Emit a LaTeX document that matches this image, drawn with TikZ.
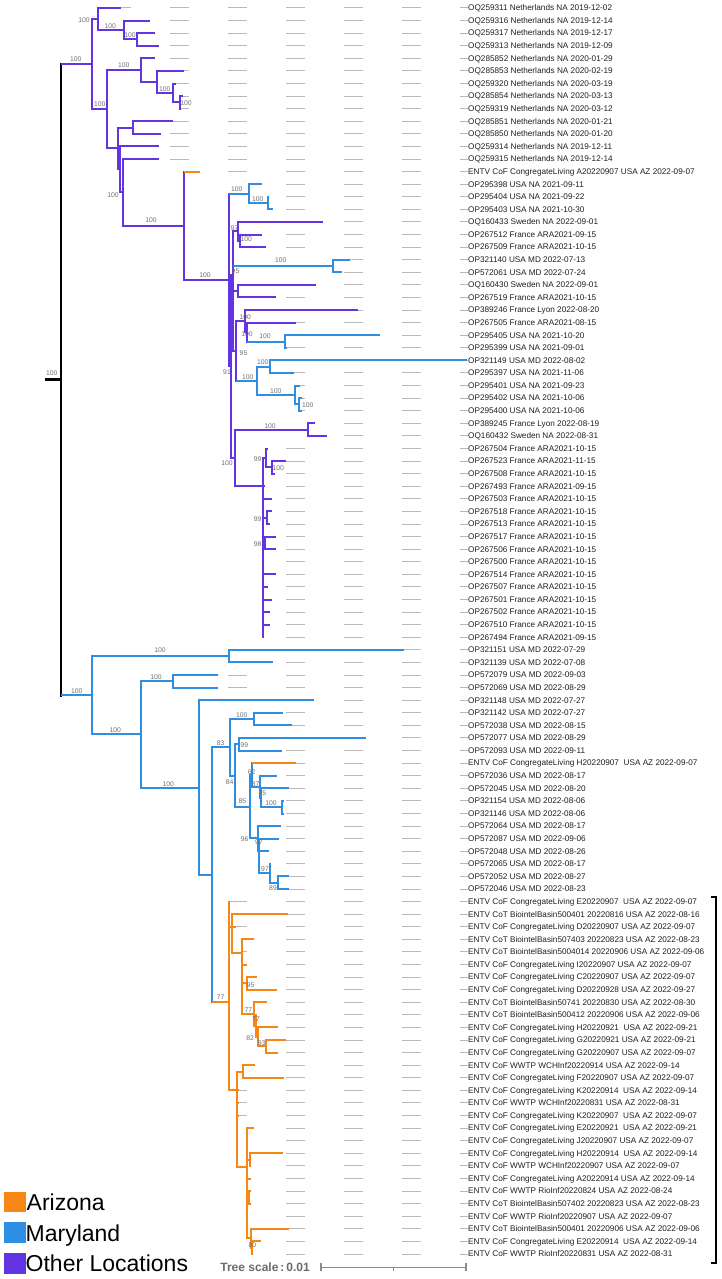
\documentclass[tikz,border=0pt]{standalone}
\usepackage{fontspec}
\setmainfont{Liberation Sans}
\definecolor{pur}{RGB}{98,52,226}
\definecolor{blu}{RGB}{45,142,226}
\definecolor{org}{RGB}{247,135,20}
\definecolor{gd}{RGB}{185,185,185}
\definecolor{bsg}{RGB}{110,110,110}
\newcommand\yy[1]{8+(#1-1)*12.586}
\tikzset{
 vbr/.style={line width=2pt, line cap=rect},
 hbr/.style={line width=2pt},
 guide/.style={draw=gd, line width=1pt, dash pattern=on 19pt off 39pt},
 leaflab/.style={anchor=base west, inner sep=0pt, font=\fontsize{8.2}{9}\selectfont, text=black!88},
 bslab/.style={inner sep=0pt, font=\fontsize{6.8}{7}\selectfont, text=bsg},
 legtxt/.style={anchor=base west, inner sep=0pt, font=\fontsize{23}{25}\selectfont},
}
\newcommand\leafx[3]{%
  \coordinate (l#1) at (#2,{\yy{#1}});
  \begin{scope}
    \clip (#2,{\yy{#1}-3}) rectangle (468,{\yy{#1}+3});
    \draw[guide] (54,{\yy{#1}}) -- (468,{\yy{#1}});
  \end{scope}
  \node[leaflab] (t#1) at (468,{\yy{#1}+2.8}) {#3};}
\newcommand\inode[3]{\coordinate (#1) at (#2,{\yy{#3}});}
\newcommand\vbar[4][pur]{\draw[vbr,#1] (#2 |- #3) -- (#2 |- #4);}
\newcommand\kids[3][pur]{\foreach \kk in {#3}{\draw[hbr,#1] (#2 |- \kk) -- (\kk);}}
\newcounter{bsc}
\newcommand\boot[3]{\stepcounter{bsc}\node[bslab] (bs\arabic{bsc}) at (#1,#2) {#3};}
\begin{document}
\begin{tikzpicture}[x=1pt,y=-1pt]
\useasboundingbox (0,0) rectangle (721,1279);
% ---------------- leaves
\leafx{1}{120.7}{OQ259311 Netherlands NA 2019-12-02}
\leafx{2}{150}{OQ259316 Netherlands NA 2019-12-14}
\leafx{3}{155}{OQ259317 Netherlands NA 2019-12-17}
\leafx{4}{159}{OQ259313 Netherlands NA 2019-12-09}
\leafx{5}{155}{OQ285852 Netherlands NA 2020-01-29}
\leafx{6}{184}{OQ285853 Netherlands NA 2020-02-19}
\leafx{7}{176}{OQ259320 Netherlands NA 2020-03-19}
\leafx{8}{183}{OQ285854 Netherlands NA 2020-03-13}
\leafx{9}{180.5}{OQ259319 Netherlands NA 2020-03-12}
\leafx{10}{173}{OQ285851 Netherlands NA 2020-01-21}
\leafx{11}{160.7}{OQ285850 Netherlands NA 2020-01-20}
\leafx{12}{159}{OQ259314 Netherlands NA 2019-12-11}
\leafx{13}{159}{OQ259315 Netherlands NA 2019-12-14}
\leafx{14}{200}{ENTV CoF CongregateLiving A20220907 USA AZ 2022-09-07}
\leafx{15}{262}{OP295398 USA NA 2021-09-11}
\leafx{16}{269}{OP295404 USA NA 2021-09-22}
\leafx{17}{273}{OP295403 USA NA 2021-10-30}
\leafx{18}{323.3}{OQ160433 Sweden NA 2022-09-01}
\leafx{19}{262}{OP267512 France ARA2021-09-15}
\leafx{20}{265.7}{OP267509 France ARA2021-10-15}
\leafx{21}{349.7}{OP321140 USA MD 2022-07-13}
\leafx{22}{341.7}{OP572061 USA MD 2022-07-24}
\leafx{23}{315.7}{OQ160430 Sweden NA 2022-09-01}
\leafx{24}{276.3}{OP267519 France ARA2021-10-15}
\leafx{25}{358}{OP389246 France Lyon 2022-08-20}
\leafx{26}{295.7}{OP267505 France ARA2021-08-15}
\leafx{27}{380}{OP295405 USA NA 2021-10-20}
\leafx{28}{287}{OP295399 USA NA 2021-09-01}
\leafx{29}{467}{OP321149 USA MD 2022-08-02}
\leafx{30}{294}{OP295397 USA NA 2021-11-06}
\leafx{31}{300}{OP295401 USA NA 2021-09-23}
\leafx{32}{302}{OP295402 USA NA 2021-10-06}
\leafx{33}{302}{OP295400 USA NA 2021-10-06}
\leafx{34}{315}{OP389245 France Lyon 2022-08-19}
\leafx{35}{327.3}{OQ160432 Sweden NA 2022-08-31}
\leafx{36}{268}{OP267504 France ARA2021-10-15}
\leafx{37}{285.7}{OP267523 France ARA2021-11-15}
\leafx{38}{275.3}{OP267508 France ARA2021-10-15}
\leafx{39}{264.5}{OP267493 France ARA2021-09-15}
\leafx{40}{272}{OP267503 France ARA2021-10-15}
\leafx{41}{272}{OP267518 France ARA2021-10-15}
\leafx{42}{270}{OP267513 France ARA2021-10-15}
\leafx{43}{276}{OP267517 France ARA2021-10-15}
\leafx{44}{276}{OP267506 France ARA2021-10-15}
\leafx{45}{264.3}{OP267500 France ARA2021-10-15}
\leafx{46}{276}{OP267514 France ARA2021-10-15}
\leafx{47}{268}{OP267507 France ARA2021-10-15}
\leafx{48}{272.3}{OP267501 France ARA2021-10-15}
\leafx{49}{270}{OP267502 France ARA2021-10-15}
\leafx{50}{270}{OP267510 France ARA2021-10-15}
\leafx{51}{264.3}{OP267494 France ARA2021-09-15}
\leafx{52}{404}{OP321151 USA MD 2022-07-29}
\leafx{53}{272.7}{OP321139 USA MD 2022-07-08}
\leafx{54}{217.7}{OP572079 USA MD 2022-09-03}
\leafx{55}{217.7}{OP572069 USA MD 2022-08-29}
\leafx{56}{313.7}{OP321148 USA MD 2022-07-27}
\leafx{57}{283.3}{OP321142 USA MD 2022-07-27}
\leafx{58}{291.7}{OP572038 USA MD 2022-08-15}
\leafx{59}{365.7}{OP572077 USA MD 2022-08-29}
\leafx{60}{281.7}{OP572093 USA MD 2022-09-11}
\leafx{61}{296}{ENTV CoF CongregateLiving H20220907\ \ USA AZ 2022-09-07}
\leafx{62}{276.7}{OP572036 USA MD 2022-08-17}
\leafx{63}{289}{OP572045 USA MD 2022-08-20}
\leafx{64}{283.5}{OP321154 USA MD 2022-08-06}
\leafx{65}{283.5}{OP321146 USA MD 2022-08-06}
\leafx{66}{281}{OP572064 USA MD 2022-08-17}
\leafx{67}{278.7}{OP572087 USA MD 2022-09-06}
\leafx{68}{268.7}{OP572048 USA MD 2022-08-26}
\leafx{69}{271}{OP572065 USA MD 2022-08-17}
\leafx{70}{289}{OP572052 USA MD 2022-08-27}
\leafx{71}{289}{OP572046 USA MD 2022-08-23}
\leafx{72}{229.5}{ENTV CoF CongregateLiving E20220907\ \ USA AZ 2022-09-07}
\leafx{73}{288}{ENTV CoT BiointelBasin500401 20220816 USA AZ 2022-08-16}
\leafx{74}{236}{ENTV CoF CongregateLiving D20220907 USA AZ 2022-09-07}
\leafx{75}{254}{ENTV CoT BiointelBasin507403 20220823 USA AZ 2022-08-23}
\leafx{76}{243}{ENTV CoT BiointelBasin5004014 20220906 USA AZ 2022-09-06}
\leafx{77}{246.7}{ENTV CoF CongregateLiving I20220907 USA AZ 2022-09-07}
\leafx{78}{256.7}{ENTV CoF CongregateLiving C20220907 USA AZ 2022-09-07}
\leafx{79}{276.7}{ENTV CoF CongregateLiving D20220928 USA AZ 2022-09-27}
\leafx{80}{266.7}{ENTV CoT BiointelBasin50741 20220830 USA AZ 2022-08-30}
\leafx{81}{257}{ENTV CoT BiointelBasin500412 20220906 USA AZ 2022-09-06}
\leafx{82}{278.3}{ENTV CoF CongregateLiving H20220921\ \ USA AZ 2022-09-21}
\leafx{83}{285.7}{ENTV CoF CongregateLiving G20220921 USA AZ 2022-09-21}
\leafx{84}{277.7}{ENTV CoF CongregateLiving G20220907 USA AZ 2022-09-07}
\leafx{85}{255}{ENTV CoF WWTP WCHInf20220914 USA AZ 2022-09-14}
\leafx{86}{284}{ENTV CoF CongregateLiving F20220907 USA AZ 2022-09-07}
\leafx{87}{238.5}{ENTV CoF CongregateLiving K20220914\ \ USA AZ 2022-09-14}
\leafx{88}{238.5}{ENTV CoF WWTP WCHInf20220831 USA AZ 2022-08-31}
\leafx{89}{238.5}{ENTV CoF CongregateLiving K20220907\ \ USA AZ 2022-09-07}
\leafx{90}{254.3}{ENTV CoF CongregateLiving E20220921\ \ USA AZ 2022-09-21}
\leafx{91}{248}{ENTV CoF CongregateLiving J20220907 USA AZ 2022-09-07}
\leafx{92}{282.7}{ENTV CoF CongregateLiving H20220914\ \ USA AZ 2022-09-14}
\leafx{93}{251}{ENTV CoF WWTP WCHInf20220907 USA AZ 2022-09-07}
\leafx{94}{250.7}{ENTV CoF CongregateLiving A20220914 USA AZ 2022-09-14}
\leafx{95}{250.7}{ENTV CoF WWTP RioInf20220824 USA AZ 2022-08-24}
\leafx{96}{250.7}{ENTV CoT BiointelBasin507402 20220823 USA AZ 2022-08-23}
\leafx{97}{248}{ENTV CoF WWTP RioInf20220907 USA AZ 2022-09-07}
\leafx{98}{288.7}{ENTV CoT BiointelBasin500401 20220906 USA AZ 2022-09-06}
\leafx{99}{261}{ENTV CoF CongregateLiving E20220914\ \ USA AZ 2022-09-14}
\leafx{100}{252.5}{ENTV CoF WWTP RioInf20220831 USA AZ 2022-08-31}
% ---------------- internal nodes
\inode{root}{61}{30.535}
\coordinate (r0) at (45,{\yy{30.535}});
\inode{A}{92.3}{5.46}
\inode{A1}{98.3}{1.875}
\inode{A1b}{123.7}{2.75}
\inode{A1c}{137.3}{3.5}
\inode{A2}{107.3}{9.05}
\inode{A2a}{140.7}{5.9375}
\inode{A2a2}{157.3}{6.875}
\inode{A2a3}{172.7}{7.75}
\inode{A2a4}{179.7}{8.5}
\inode{A2b}{117.7}{12.16}
\inode{A2b1}{133.3}{10.5}
\inode{A2b2}{120}{13.83}
\inode{A2b3}{122.7}{15.65}
\inode{C}{184}{18.305}
\inode{D}{228.7}{22.61}
\inode{F1}{248.7}{15.75}
\inode{G}{268}{16.5}
\inode{F2}{231}{29.47}
\inode{K}{233}{22.21}
\inode{P1}{238.3}{18.75}
\inode{P1b}{240}{19.5}
\inode{Q}{332.7}{21.5}
\inode{R}{238.3}{23.5}
\inode{K2}{236}{28.25}
\inode{T1}{245.3}{25.875}
\inode{T2}{246.7}{26.75}
\inode{S}{285}{27.5}
\inode{U}{256.7}{30.625}
\inode{U1}{270}{29.5}
\inode{U2}{295}{31.75}
\inode{U3}{299.3}{32.5}
\inode{M}{234.5}{36.725}
\inode{V}{308.3}{34.5}
\inode{W}{263.3}{38.95}
\inode{W1}{266}{36.75}
\inode{X}{272}{37.5}
\inode{Y}{267.3}{41.5}
\inode{Z}{264.7}{43.5}
\inode{B}{92.3}{55.61}
\inode{B1}{228.7}{52.5}
\inode{B2}{141}{58.72}
\inode{B2a}{173.3}{54.5}
\inode{B2b}{198.7}{62.94}
\inode{B3}{212.3}{69.87}
\inode{B4}{230}{59.74}
\inode{B5}{254}{57.5}
\inode{B6}{235}{61.98}
\inode{B7}{238.7}{59.5}
\inode{B8}{250}{64.455}
\inode{B9}{252.3}{61.94}
\inode{B9b}{260}{62.875}
\inode{B9c}{260.7}{63.75}
\inode{B9d}{282.3}{64.5}
\inode{B10}{258.3}{66.97}
\inode{B10b}{259.3}{67.94}
\inode{B10c}{270}{69.75}
\inode{B10d}{278}{70.5}
\inode{AZ}{229}{80.0}
\inode{AZ1}{232.3}{74.0}
\inode{N1}{242.3}{76.09}
\inode{N78}{247.3}{78.5}
\inode{N2}{254.3}{80.94}
\inode{N3}{255.7}{81.875}
\inode{N4}{258.3}{82.75}
\inode{N5}{265.7}{83.5}
\inode{AZ2}{237}{87.0}
\inode{N6}{242.5}{85.5}
\inode{N7}{247}{93.06}
\inode{N8}{250}{92.5}
\inode{N11}{248.7}{95.5}
\inode{N9}{250.7}{98.75}
\inode{N10}{252}{99.5}
% ---------------- branches
\draw[hbr,black,line width=2.5pt] (r0) -- (root);
\draw[vbr,black,line width=2.5pt] (root |- A) -- (root |- B);
\kids{root}{A}\kids[blu]{root}{B}
% Other locations clade
\vbar{A}{A1}{A2}\kids{A}{A1,A2}
\vbar{A1}{l1}{A1b}\kids{A1}{l1,A1b}
\vbar{A1b}{l2}{A1c}\kids{A1b}{l2,A1c}
\vbar{A1c}{l3}{l4}\kids{A1c}{l3,l4}
\vbar{A2}{A2a}{A2b}\kids{A2}{A2a,A2b}
\vbar{A2a}{l5}{A2a2}\kids{A2a}{l5,A2a2}
\vbar{A2a2}{l6}{A2a3}\kids{A2a2}{l6,A2a3}
\vbar{A2a3}{l7}{A2a4}\kids{A2a3}{l7,A2a4}
\vbar{A2a4}{l8}{l9}\kids{A2a4}{l8,l9}
\vbar{A2b}{A2b1}{A2b2}\kids{A2b}{A2b1,A2b2}
\vbar{A2b1}{l10}{l11}\kids{A2b1}{l10,l11}
\vbar{A2b2}{l12}{A2b3}\kids{A2b2}{l12,A2b3}
\vbar{A2b3}{l13}{C}\kids{A2b3}{l13,C}
\vbar{C}{l14}{D}\kids[org]{C}{l14}\kids{C}{D}
\vbar{D}{F1}{F2}\kids[blu]{D}{F1}\kids{D}{F2}
\vbar[blu]{F1}{l15}{G}\kids[blu]{F1}{l15,G}
\vbar[blu]{G}{l16}{l17}\kids[blu]{G}{l16,l17}
\vbar{F2}{K}{M}\kids{F2}{K,M}
\vbar{K}{P1}{K2}\kids{K}{P1,R,K2}\kids[blu]{K}{Q}
\vbar{P1}{l18}{P1b}\kids{P1}{l18,P1b}
\vbar{P1b}{l19}{l20}\kids{P1b}{l19,l20}
\vbar[blu]{Q}{l21}{l22}\kids[blu]{Q}{l21,l22}
\vbar{R}{l23}{l24}\kids{R}{l23,l24}
\vbar{K2}{T1}{U}\kids{K2}{T1}\kids[blu]{K2}{U}
\vbar{T1}{l25}{T2}\kids{T1}{l25,T2}
\vbar{T2}{l26}{S}\kids{T2}{l26}\kids[blu]{T2}{S}
\vbar[blu]{S}{l27}{l28}\kids[blu]{S}{l27,l28}
\vbar[blu]{U}{U1}{U2}\kids[blu]{U}{U1,U2}
\vbar[blu]{U1}{l29}{l30}\kids[blu]{U1}{l29,l30}
\vbar[blu]{U2}{l31}{U3}\kids[blu]{U2}{l31,U3}
\vbar[blu]{U3}{l32}{l33}\kids[blu]{U3}{l32,l33}
\vbar{M}{V}{W}\kids{M}{V,W}
\vbar{V}{l34}{l35}\kids{V}{l34,l35}
\vbar{W}{W1}{l51}\kids{W}{W1,l39,l40,Y,Z,l45,l46,l47,l48,l49,l50,l51}
\vbar{W1}{l36}{X}\kids{W1}{l36,X}
\vbar{X}{l37}{l38}\kids{X}{l37,l38}
\vbar{Y}{l41}{l42}\kids{Y}{l41,l42}
\vbar{Z}{l43}{l44}\kids{Z}{l43,l44}
% Maryland / Arizona clade
\vbar[blu]{B}{B1}{B2}\kids[blu]{B}{B1,B2}
\vbar[blu]{B1}{l52}{l53}\kids[blu]{B1}{l52,l53}
\vbar[blu]{B2}{B2a}{B2b}\kids[blu]{B2}{B2a,B2b}
\vbar[blu]{B2a}{l54}{l55}\kids[blu]{B2a}{l54,l55}
\vbar[blu]{B2b}{l56}{B3}\kids[blu]{B2b}{l56,B3}
\vbar[blu]{B3}{B4}{AZ}\kids[blu]{B3}{B4}\kids[org]{B3}{AZ}
\vbar[blu]{B4}{B5}{B6}\kids[blu]{B4}{B5,B6}
\vbar[blu]{B5}{l57}{l58}\kids[blu]{B5}{l57,l58}
\vbar[blu]{B6}{B7}{B8}\kids[blu]{B6}{B7,B8}
\vbar[blu]{B7}{l59}{l60}\kids[blu]{B7}{l59,l60}
\vbar[blu]{B8}{B9}{B10}\kids[blu]{B8}{B9,B10}
\vbar[blu]{B9}{l61}{B9b}\kids[org]{B9}{l61}\kids[blu]{B9}{B9b}
\vbar[blu]{B9b}{l62}{B9c}\kids[blu]{B9b}{l62,B9c}
\vbar[blu]{B9c}{l63}{B9d}\kids[blu]{B9c}{l63,B9d}
\vbar[blu]{B9d}{l64}{l65}\kids[blu]{B9d}{l64,l65}
\vbar[blu]{B10}{l66}{B10b}\kids[blu]{B10}{l66,B10b}
\vbar[blu]{B10b}{l67}{B10c}\kids[blu]{B10b}{l67,l68,B10c}
\vbar[blu]{B10c}{l69}{B10d}\kids[blu]{B10c}{l69,B10d}
\vbar[blu]{B10d}{l70}{l71}\kids[blu]{B10d}{l70,l71}
\vbar[org]{AZ}{l72}{AZ2}\kids[org]{AZ}{l72,AZ1,AZ2}
\vbar[org]{AZ1}{l73}{N1}\kids[org]{AZ1}{l73,l74,N1}
\vbar[org]{N1}{l75}{N2}\kids[org]{N1}{l75,l76,l77,N78,N2}
\vbar[org]{N78}{l78}{l79}\kids[org]{N78}{l78,l79}
\vbar[org]{N2}{l80}{N3}\kids[org]{N2}{l80,N3}
\vbar[org]{N3}{l81}{N4}\kids[org]{N3}{l81,N4}
\vbar[org]{N4}{l82}{N5}\kids[org]{N4}{l82,N5}
\vbar[org]{N5}{l83}{l84}\kids[org]{N5}{l83,l84}
\vbar[org]{AZ2}{N6}{N7}\kids[org]{AZ2}{N6,l87,l88,l89,N7}
\vbar[org]{N6}{l85}{l86}\kids[org]{N6}{l85,l86}
\vbar[org]{N7}{l90}{N9}\kids[org]{N7}{l90,l91,N8,l94,N11,l97,N9}
\vbar[org]{N8}{l92}{l93}\kids[org]{N8}{l92,l93}
\vbar[org]{N11}{l95}{l96}\kids[org]{N11}{l95,l96}
\vbar[org]{N9}{l98}{N10}\kids[org]{N9}{l98,N10}
\vbar[org]{N10}{l99}{l100}\kids[org]{N10}{l99,l100}
% ---------------- bootstrap values
\boot{84}{19.7}{100}
\boot{75.7}{59.3}{100}
\boot{110.3}{25.7}{100}
\boot{130}{35}{100}
\boot{123.7}{65}{100}
\boot{164.7}{88.7}{100}
\boot{186}{103}{100}
\boot{99.7}{104.3}{100}
\boot{113}{195}{100}
\boot{151}{220.3}{100}
\boot{205}{275}{100}
\boot{236.7}{188.7}{100}
\boot{257.7}{199.3}{100}
\boot{234.5}{228}{97}
\boot{246.3}{239}{100}
\boot{280.7}{260.3}{100}
\boot{235.5}{270.7}{95}
\boot{245.3}{317.5}{100}
\boot{247}{334}{100}
\boot{265}{336.5}{100}
\boot{243.5}{352.7}{95}
\boot{262.7}{362.3}{100}
\boot{227}{371.7}{91}
\boot{247.7}{376.7}{100}
\boot{275.7}{391}{100}
\boot{307.7}{405}{100}
\boot{270}{425.7}{100}
\boot{257.7}{459}{99}
\boot{227}{462.7}{100}
\boot{278.3}{468}{100}
\boot{257.7}{518.7}{99}
\boot{257.7}{544}{98}
\boot{51.7}{372.7}{100}
\boot{160}{650.3}{100}
\boot{76.7}{690.7}{100}
\boot{156}{677}{100}
\boot{115.3}{730.3}{100}
\boot{168.3}{783.7}{100}
\boot{241.7}{715}{100}
\boot{220.7}{743}{83}
\boot{244.3}{744.7}{99}
\boot{251.7}{772}{62}
\boot{229.7}{781.7}{84}
\boot{255.7}{783.7}{87}
\boot{262.3}{792.7}{75}
\boot{242.3}{801.3}{85}
\boot{271}{803}{100}
\boot{244.7}{839.3}{96}
\boot{259}{842}{97}
\boot{265}{869.3}{97}
\boot{273}{888.3}{89}
\boot{220.7}{996.7}{77}
\boot{250.5}{985.3}{95}
\boot{248.3}{1010.3}{77}
\boot{256}{1019.5}{77}
\boot{250.2}{1038.3}{82}
\boot{261.7}{1043}{93}
\boot{252.3}{1245}{80}
% ---------------- bracket
\draw[line width=2pt] (711,897) -- (715.5,897) -- (715.5,1263) -- (711,1263);
% ---------------- scale bar
\coordinate (sb1) at (321,1267.3);
\coordinate (sb2) at (466,1267.3);
\draw[draw=gray!90, line width=1.1pt] (sb1) -- (sb2);
\draw[draw=gray!90, line width=1.1pt] ([yshift=4pt]sb1) -- ([yshift=-4pt]sb1);
\draw[draw=gray!90, line width=1.1pt] ([yshift=4pt]sb2) -- ([yshift=-4pt]sb2);
\draw[draw=gray!90, line width=0.8pt] (393.5,1267.3) -- (393.5,1270.5);
\node[anchor=east, inner sep=0pt, font=\bfseries\fontsize{12}{13}\selectfont, text=black!58] (scl) at (310,1267.3) {Tree scale\,:\,0.01};
% ---------------- legend
\fill[org] (4,1191.7) rectangle (26,1211.7);
\fill[blu] (4,1222.3) rectangle (26,1242.7);
\fill[pur] (4,1253.3) rectangle (26,1274);
\node[legtxt] (lg1) at (26.5,1210) {Arizona};
\node[legtxt] (lg2) at (25.5,1241.7) {Maryland};
\node[legtxt] (lg3) at (25.5,1271.7) {Other Locations};
\end{tikzpicture}
\end{document}
